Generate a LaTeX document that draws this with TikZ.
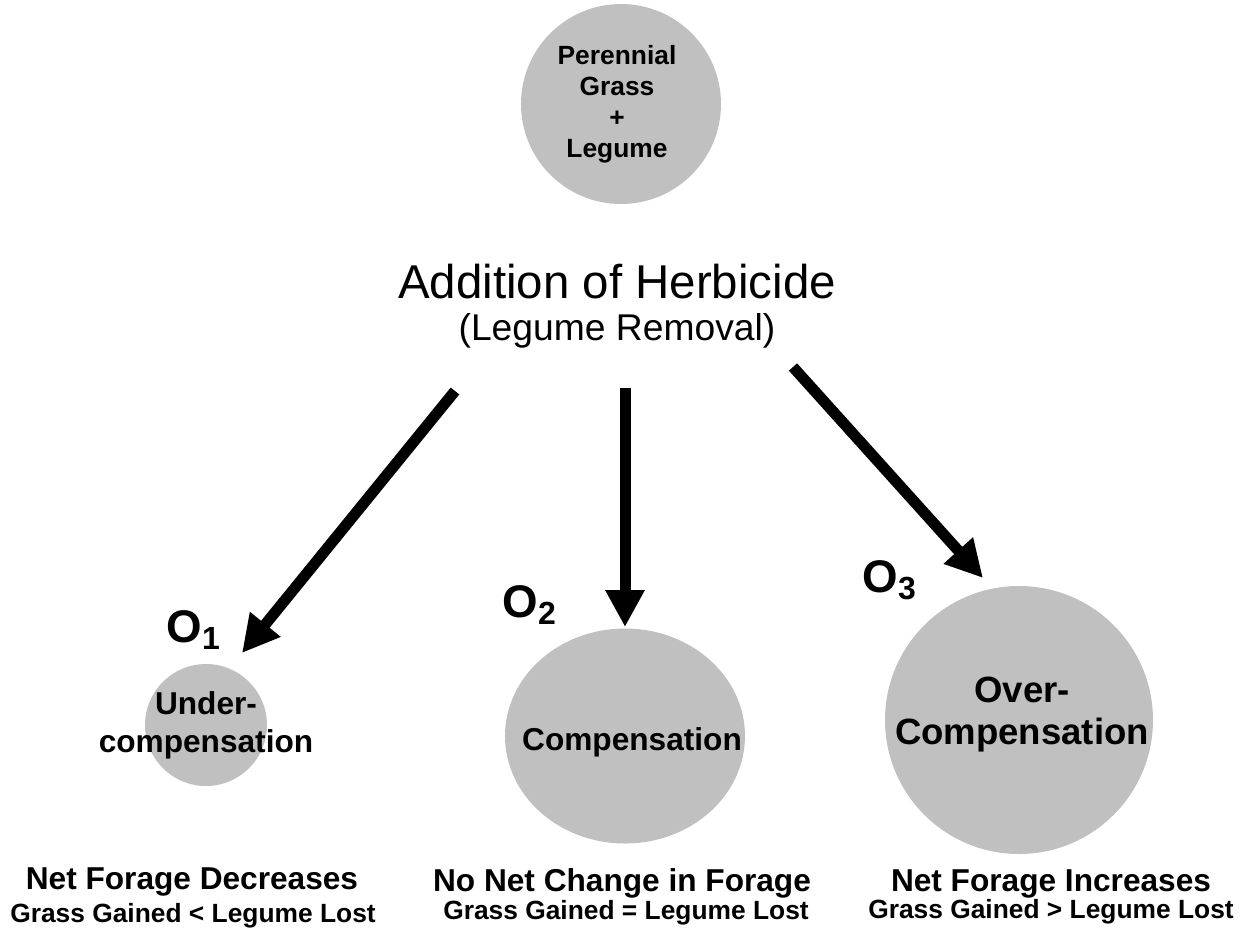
\documentclass[tikz,border=0pt]{standalone}
\usepackage{fontspec}
\setmainfont{Liberation Sans}
\usetikzlibrary{arrows.meta,shapes.geometric}
\definecolor{blobgray}{HTML}{C0C0C0}

\begin{document}
\begin{tikzpicture}[
    headline/.style={anchor=base, font=\fontsize{9}{10.8}\selectfont\bfseries},
    subline/.style={anchor=base, font=\fontsize{7.5}{9}\selectfont\bfseries},
    outcome/.style={anchor=base west, font=\fontsize{13}{15}\selectfont\bfseries}]

      \useasboundingbox (0,0) rectangle (12.49,-9.37);

      % grey discs
      \begin{scope}[every node/.style={fill=blobgray, inner sep=0pt}]
        \node[circle, minimum size=2.0cm] (top) at (6.21,-1.04) {};
        \node[circle, minimum size=1.22cm] (under) at (2.06,-7.25) {};
        \node[ellipse, minimum width=2.4cm, minimum height=2.15cm] (comp) at (6.25,-7.36) {};
        \node[circle, minimum size=2.68cm] (over) at (10.19,-7.20) {};
      \end{scope}

      % text inside the discs
      \begin{scope}[every node/.style={align=center, inner sep=0pt}]
        \node[font=\fontsize{7.5}{8.8}\selectfont\bfseries] (toptxt) at (6.17,-1.04)
          {Perennial\\Grass\\+\\Legume};
        \node[font=\fontsize{9}{10.8}\selectfont\bfseries] (undertxt) at (2.06,-7.25)
          {Under-\\compensation};
        \node[font=\fontsize{9}{10.8}\selectfont\bfseries, anchor=base] (comptxt) at (6.32,-7.50)
          {Compensation};
        \node[font=\fontsize{10.4}{12.2}\selectfont\bfseries] (overtxt) at (10.22,-7.145)
          {Over-\\Compensation};
      \end{scope}

      % treatment
      \node[anchor=base, inner sep=0pt, font=\fontsize{13.5}{16}\selectfont] (herb) at (6.17,-2.98)
        {Addition of Herbicide};
      \node[anchor=base, inner sep=0pt, font=\fontsize{10.6}{12.7}\selectfont] (removal) at (6.17,-3.40)
        {(Legume Removal)};

      % outcomes
      \begin{scope}[every node/.style={inner sep=0pt}]
        \node[outcome] (o1) at (1.66,-6.42) {O\textsubscript{1}};
        \node[outcome] (o2) at (5.02,-6.17) {O\textsubscript{2}};
        \node[outcome] (o3) at (8.62,-5.92) {O\textsubscript{3}};

        \node[headline] (dec)   at (1.92,-8.89)  {Net Forage Decreases};
        \node[subline]  (decs)  at (1.93,-9.22)  {Grass Gained < Legume Lost};
        \node[headline] (same)  at (6.22,-8.91)  {No Net Change in Forage};
        \node[subline]  (sames) at (6.26,-9.19)  {Grass Gained = Legume Lost};
        \node[headline] (inc)   at (10.51,-8.91) {Net Forage Increases};
        \node[subline]  (incs)  at (10.51,-9.18) {Grass Gained > Legume Lost};
      \end{scope}

      % arrows
      \coordinate (s1) at (4.55,-3.91);
      \coordinate (t1) at (2.42,-6.53);
      \coordinate (s2) at (6.25,-3.88);
      \coordinate (t2) at (6.25,-6.27);
      \coordinate (s3) at (7.93,-3.67);
      \coordinate (t3) at (9.83,-5.78);

      \begin{scope}[every edge/.style={draw, line width=0.11cm,
          -{Triangle[length=0.37cm, width=0.37cm]}}]
        \path (s1) edge (t1);
        \path (s2) edge (t2);
        \path (s3) edge (t3);
      \end{scope}

    \end{tikzpicture}
\end{document}
